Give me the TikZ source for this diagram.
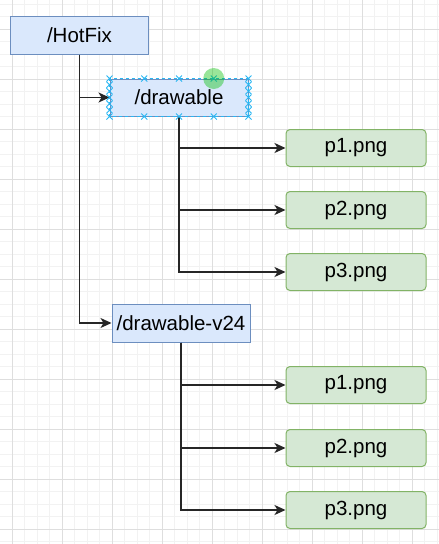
\documentclass[tikz,border=0pt]{standalone}
\usepackage{fontspec}
\setmainfont{Liberation Sans}
\usepackage{tikz}
\usetikzlibrary{positioning, arrows.meta, calc}
\definecolor{dirfill}{HTML}{DAE8FC}
\definecolor{dirline}{HTML}{6C8EBF}
\definecolor{filefill}{HTML}{D5E8D4}
\definecolor{fileline}{HTML}{82B366}
\definecolor{selblue}{HTML}{29B6F2}

\begin{document}
\begin{tikzpicture}[x=1pt, y=1pt, on grid,
    font=\fontsize{20.5}{24}\selectfont,
    dir/.style={draw=dirline, fill=dirfill, line width=1pt, minimum width=138pt, minimum height=38pt, inner sep=0pt},
    file/.style={draw=fileline, fill=filefill, line width=1pt, rounded corners=4pt, minimum width=140pt, minimum height=37pt, inner sep=0pt},
    link/.style={draw=black!85, line width=1.4pt, -{Stealth[length=11pt,width=10pt,inset=3pt]}},
    handle/.style={selblue, line width=0.9pt}]
    \useasboundingbox (0,0) rectangle (439,-544);
    % canvas grid
    \foreach \k in {-1,...,34}
        \draw[black!5, line width=0.5pt] (12+12.5*\k,0) -- (12+12.5*\k,-544);
    \foreach \k in {-2,...,41}
        \draw[black!5, line width=0.5pt] (0,-29-12.5*\k) -- (439,-29-12.5*\k);
    \foreach \k in {0,...,8}
        \draw[black!13, line width=0.8pt] (12+50*\k,0) -- (12+50*\k,-544);
    \foreach \k in {0,...,10}
        \draw[black!13, line width=0.8pt] (0,-29-50*\k) -- (439,-29-50*\k);

    \node[dir] (hotfix) at (79.5,-35) {/HotFix};
    \node[dir, minimum height=37pt, below right=62.5pt and 99.5pt of hotfix] (drawable) {/drawable};
    \node[file, below right=50.5pt and 177pt of drawable] (dp1) {p1.png};
    \node[file, below=62pt of dp1] (dp2) {p2.png};
    \node[file, below=62pt of dp2] (dp3) {p3.png};

    \node[dir, below right=288pt and 101.5pt of hotfix] (v24) {/drawable-v24};
    \node[file, below right=62pt and 175pt of v24] (vp1) {p1.png};
    \node[file, below=63pt of vp1] (vp2) {p2.png};
    \node[file, below=62pt of vp2] (vp3) {p3.png};

    \draw[link] (hotfix.south) |- (drawable.west);
    \draw[link] (hotfix.south) |- (v24.west);
    \foreach \f in {dp1,dp2,dp3}
        \draw[link] (drawable.south) |- (\f.west);
    \foreach \f in {vp1,vp2,vp3}
        \draw[link] (v24.south) |- (\f.west);

    % selection on /drawable
    \draw[selblue, dashed, line width=0.8pt] (drawable.south west) rectangle (drawable.north east);
    \foreach \t in {0,0.25,0.5,0.75,1} {
        \coordinate (h) at ($(drawable.north west)!\t!(drawable.north east)$);
        \draw[handle] (h) ++(-3,-3) -- ++(6,6) (h) ++(-3,3) -- ++(6,-6);
        \coordinate (h) at ($(drawable.south west)!\t!(drawable.south east)$);
        \draw[handle] (h) ++(-3,-3) -- ++(6,6) (h) ++(-3,3) -- ++(6,-6);
    }
    \foreach \t in {0.167,0.333,0.5,0.667,0.833} {
        \coordinate (h) at ($(drawable.north west)!\t!(drawable.south west)$);
        \draw[handle] (h) ++(-3,-3) -- ++(6,6) (h) ++(-3,3) -- ++(6,-6);
        \coordinate (h) at ($(drawable.north east)!\t!(drawable.south east)$);
        \draw[handle] (h) ++(-3,-3) -- ++(6,6) (h) ++(-3,3) -- ++(6,-6);
    }
    \fill[green!75!black, opacity=0.4] ($(drawable.north west)!0.75!(drawable.north east)$) circle (10.5);
\end{tikzpicture}
\end{document}
